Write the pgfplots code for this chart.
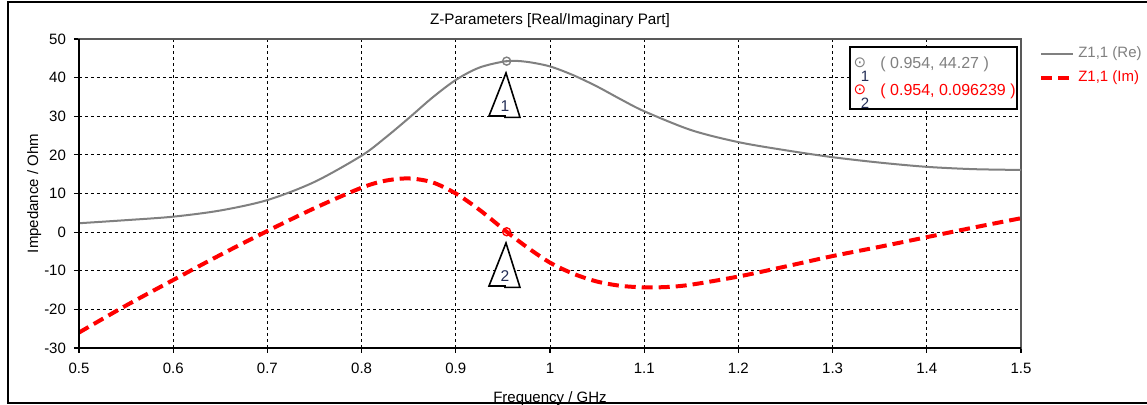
\documentclass[border=0pt]{standalone}
\usepackage{pgfplots}
\pgfplotsset{compat=1.18}
\usepackage{fontspec}
\setmainfont{Liberation Sans}
\newfontfamily\symfont{DejaVu Sans}
\definecolor{regray}{RGB}{128,128,128}
\definecolor{imred}{RGB}{255,0,0}
\definecolor{navy}{RGB}{35,45,85}

\begin{document}
\begin{tikzpicture}
\useasboundingbox (-39.5pt,-28.5pt) rectangle (534pt,174pt);
\fill[white] (-39.5pt,-28.5pt) rectangle (534pt,174pt);
\begin{axis}[
  at={(0pt,0pt)}, anchor=south west,
  scale only axis, width=471pt, height=154.5pt,
  xmin=0.5, xmax=1.5, ymin=-30, ymax=50,
  xtick={0.5,0.6,...,1.5},
  xticklabels={0.5,0.6,0.7,0.8,0.9,1,1.1,1.2,1.3,1.4,1.5},
  ytick={-30,-20,...,50},
  tick pos=left, tick align=outside,
  major tick length=2.5pt,
  tick style={black, line width=0.6pt},
  font=\fontsize{7.5}{9}\selectfont,
  /pgf/number format/assume math mode=true,
  ticklabel style={font=\fontsize{7.5}{9}\selectfont, text=black},
  xticklabel style={yshift=-1.5pt},
  yticklabel style={xshift=-0.5pt},
  grid=major,
  major grid style={black, line width=0.5pt, dash pattern=on 1.5pt off 1.5pt},
  axis line style={black!65, line width=0.6pt},
  title={Z-Parameters [Real/Imaginary Part]},
  every axis title shift=0pt,
  title style={at={(axis description cs:0.5,1.0485)}, anchor=base, font=\fontsize{7.6}{9}\selectfont},
  xlabel={Frequency / GHz},
  xlabel style={at={(axis description cs:0.5,-0.178)}, anchor=base, font=\fontsize{7.5}{9}\selectfont},
  ylabel={Impedance / Ohm},
  ylabel style={at={(axis description cs:-0.0435,0.5)}, anchor=base, font=\fontsize{7.5}{9}\selectfont},
  legend style={at={(axis description cs:1.019,0.985)}, anchor=north west, draw=none, fill=none,
    font=\fontsize{7.5}{9}\selectfont, row sep=2pt, inner sep=0pt,
    nodes={inner sep=1.5pt}},
  legend cell align=left,
  legend image code/.code={\draw[#1] (0pt,0pt) -- (16pt,0pt);},
  clip=true,
]
\addplot[regray, line width=1pt, smooth] coordinates {
(0.50,2.3) (0.55,3.1) (0.60,4.0) (0.65,5.6) (0.70,8.3) (0.75,13.0) (0.80,19.8)
(0.825,24.4) (0.85,29.5) (0.875,34.8) (0.90,39.4) (0.925,42.6) (0.954,44.27)
(0.975,44.1) (1.00,42.9) (1.025,40.6) (1.05,37.7) (1.075,34.4) (1.10,31.3)
(1.15,26.4) (1.20,23.3) (1.25,21.2) (1.30,19.4) (1.35,18.0) (1.40,16.9)
(1.45,16.3) (1.50,16.1)
};
\addlegendentry{\textcolor{regray}{Z1,1 (Re)}}
\addplot[imred, line width=2pt, dash pattern=on 5.5pt off 3pt, smooth] coordinates {
(0.50,-26.0) (0.55,-19.0) (0.60,-12.4) (0.65,-5.9) (0.70,0.3) (0.75,6.2)
(0.80,11.5) (0.825,13.3) (0.85,13.9) (0.875,12.9) (0.90,10.0) (0.925,5.8)
(0.954,0.096239) (0.975,-3.8) (1.00,-7.9) (1.025,-10.8) (1.05,-12.8)
(1.075,-13.9) (1.10,-14.3) (1.125,-14.2) (1.15,-13.6) (1.20,-11.5)
(1.25,-8.9) (1.30,-6.2) (1.35,-3.8) (1.40,-1.3) (1.45,1.2) (1.50,3.6)
};
\addlegendentry{\textcolor{imred}{Z1,1 (Im)}}
% markers
\addplot[only marks, mark=o, mark size=2pt, regray, mark options={line width=0.7pt, fill=white}, forget plot] coordinates {(0.954,44.27)};
\addplot[only marks, mark=*, mark size=0.4pt, regray, forget plot] coordinates {(0.954,44.27)};
\addplot[only marks, mark=o, mark size=2pt, imred, mark options={line width=0.7pt, fill=white}, forget plot] coordinates {(0.954,0.096239)};
\addplot[only marks, mark=*, mark size=0.4pt, imred, forget plot] coordinates {(0.954,0.096239)};
\end{axis}
% left and bottom axis lines darker
\draw[black, line width=1pt] (0pt,154.5pt) -- (0pt,0pt) -- (471pt,0pt);
% marker annotation triangles
\draw[black, line width=0.8pt, fill=white] (213.5pt,137.5pt) -- (205pt,116pt) -- (213pt,116pt) -- (213pt,115.3pt) -- (220.5pt,115.3pt) -- cycle;
\node[text=navy, font=\fontsize{7.8}{9}\selectfont, inner sep=0pt] at (213pt,121pt) {1};
\draw[black, line width=0.8pt, fill=white] (213.5pt,52.5pt) -- (205pt,31pt) -- (213pt,31pt) -- (213pt,30.3pt) -- (220.5pt,30.3pt) -- cycle;
\node[text=navy, font=\fontsize{7.8}{9}\selectfont, inner sep=0pt] at (213pt,36pt) {2};
% marker info box
\draw[black, line width=1pt, fill=white] (385.5pt,119.5pt) rectangle (469pt,150.3pt);
\node[text=regray, font=\symfont\fontsize{7.5}{8}\selectfont, inner sep=0pt] at (390.5pt,142.8pt) {⊙};
\node[text=navy, font=\fontsize{7.5}{9}\selectfont, inner sep=0pt] at (393pt,136pt) {1};
\node[text=regray, font=\fontsize{8}{9}\selectfont, anchor=west, inner sep=0pt] at (400.5pt,142pt) {( 0.954, 44.27 )};
\node[text=imred, font=\symfont\fontsize{7.5}{8}\selectfont, inner sep=0pt] at (390.5pt,129.3pt) {⊙};
\node[text=navy, font=\fontsize{7.5}{9}\selectfont, inner sep=0pt] at (393pt,122.5pt) {2};
\node[text=imred, font=\fontsize{8}{9}\selectfont, anchor=west, inner sep=0pt] at (400.5pt,128.5pt) {( 0.954, 0.096239 )};
% outer frame
\draw[black, line width=1.3pt] (540pt,173pt) -- (-35.5pt,173pt) -- (-35.5pt,-27.5pt) -- (540pt,-27.5pt);
\end{tikzpicture}
\end{document}
